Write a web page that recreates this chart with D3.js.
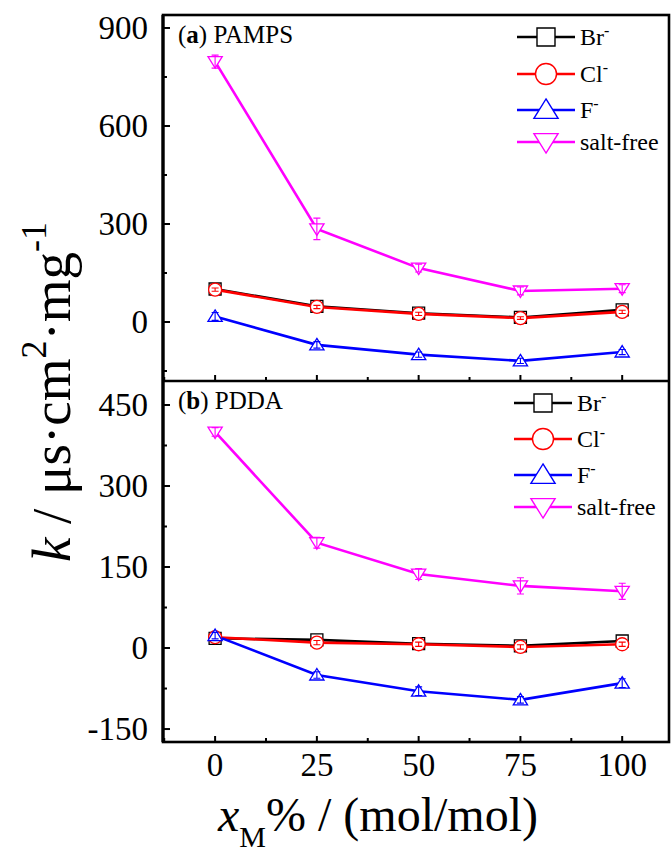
<!DOCTYPE html>
<html>
<head>
<meta charset="utf-8">
<script src="https://cdn.jsdelivr.net/npm/d3@7"></script>
<style>
  html, body { margin: 0; padding: 0; background: #fff; }
  svg { display: block; font-family: 'Times New Roman', 'Liberation Serif', Times, serif; }
</style>
</head>
<body>
<svg id="chart" width="671" height="854"></svg>
<script>
const xValues = [0, 25, 50, 75, 100]
const xTickLabels = ['0', '25', '50', '75', '100']

// (a) PAMPS
const pampsBr = [101, 48, 27, 14, 37]
const pampsCl = [99, 46, 25, 12, 31]
const pampsF = [17, -70, -100, -119, -92]
const pampsSaltFree = [797, 285, 165, 95, 102]
const pampsBrErr = [5, 5, 5, 4, 5]
const pampsClErr = [5, 5, 5, 4, 5]
const pampsFErr = [12, 10, 8, 8, 8]
const pampsSaltFreeErr = [20, 33, 12, 12, 12]
const pampsTicks = [0, 300, 600, 900]
const pampsMinor = [-150, 150, 450, 750]

// (b) PDDA
const pddaBr = [18, 15, 8, 4, 13]
const pddaCl = [20, 10, 7, 2, 7]
const pddaF = [23, -50, -80, -96, -65]
const pddaSaltFree = [400, 195, 137, 115, 105]
const pddaBrErr = [4, 4, 4, 4, 4]
const pddaClErr = [4, 4, 4, 4, 4]
const pddaFErr = [6, 6, 8, 6, 8]
const pddaSaltFreeErr = [8, 10, 10, 15, 15]
const pddaTicks = [-150, 0, 150, 300, 450]
const pddaMinor = [-75, 75, 225, 375]

const seriesNames = ['Br', 'Cl', 'F', 'salt-free']
const seriesColors = ['#000000', '#ff0000', '#0000ff', '#ff00ff']
const seriesSymbols = ['square', 'circle', 'up', 'down']

const svg = d3.select('#chart')
const left = 163
const right = 669
const x = d3.scaleLinear().domain([-12.8, 111.5]).range([left, right])

const panels = [
  {
    label: 'a', name: 'PAMPS', top: 15, bottom: 381,
    domain: [-180.6, 939.7],
    data: [pampsBr, pampsCl, pampsF, pampsSaltFree],
    err: [pampsBrErr, pampsClErr, pampsFErr, pampsSaltFreeErr],
    ticks: pampsTicks, minor: pampsMinor,
    legendY: [37, 74, 110, 142], legendX: 517,
  },
  {
    label: 'b', name: 'PDDA', top: 381, bottom: 742,
    domain: [-174, 494.4],
    data: [pddaBr, pddaCl, pddaF, pddaSaltFree],
    err: [pddaBrErr, pddaClErr, pddaFErr, pddaSaltFreeErr],
    ticks: pddaTicks, minor: pddaMinor,
    legendY: [403, 439, 475, 507], legendX: 514,
  },
]

function symbolPath(kind, s) {
  // s ~ half size
  if (kind === 'square') return `M${-s},${-s}H${s}V${s}H${-s}Z`
  if (kind === 'circle') return `M${s},0A${s},${s} 0 1,1 ${-s},0A${s},${s} 0 1,1 ${s},0Z`
  if (kind === 'up') return `M0,${-s * 1.05}L${s * 1.15},${s * 0.8}L${-s * 1.15},${s * 0.8}Z`
  return `M0,${s * 1.05}L${s * 1.15},${-s * 0.8}L${-s * 1.15},${-s * 0.8}Z`
}

panels.forEach((p) => {
  const y = d3.scaleLinear().domain(p.domain).range([p.bottom, p.top])
  const g = svg.append('g')

  // series lines
  p.data.forEach((vals, i) => {
    const pts = xValues.map((xv, j) => [x(xv), y(vals[j])])
    g.append('path')
      .attr('d', d3.line()(pts))
      .attr('fill', 'none')
      .attr('stroke', seriesColors[i])
      .attr('stroke-width', 2.6)
  })

  // markers + error bars
  p.data.forEach((vals, i) => {
    const half = seriesSymbols[i] === 'square' ? 6 : seriesSymbols[i] === 'circle' ? 6.5 : 6.2
    xValues.forEach((xv, j) => {
      const cx = x(xv)
      const cy = y(vals[j])
      g.append('path')
        .attr('d', symbolPath(seriesSymbols[i], half))
        .attr('transform', `translate(${cx},${cy})`)
        .attr('fill', '#fff')
        .attr('stroke', seriesColors[i])
        .attr('stroke-width', 1.3)
      const e = p.err[i][j]
      const y1 = y(vals[j] + e)
      const y2 = y(vals[j] - e)
      g.append('path')
        .attr('d', `M${cx},${y1}V${y2}M${cx - 3.5},${y1}H${cx + 3.5}M${cx - 3.5},${y2}H${cx + 3.5}`)
        .attr('stroke', seriesColors[i])
        .attr('stroke-width', 1.1)
        .attr('fill', 'none')
    })
  })

  // y ticks (inward)
  p.ticks.forEach((t) => {
    g.append('line')
      .attr('x1', left).attr('x2', left + 7)
      .attr('y1', y(t)).attr('y2', y(t))
      .attr('stroke', '#000').attr('stroke-width', 2)
    g.append('text')
      .attr('x', 148).attr('y', y(t) + 11)
      .attr('text-anchor', 'end')
      .attr('font-size', 33)
      .text(t)
  })
  p.minor.forEach((t) => {
    g.append('line')
      .attr('x1', left).attr('x2', left + 4)
      .attr('y1', y(t)).attr('y2', y(t))
      .attr('stroke', '#000').attr('stroke-width', 2)
  })

  // x ticks on the bottom edge of each panel (inward)
  xValues.forEach((xv) => {
    g.append('line')
      .attr('x1', x(xv)).attr('x2', x(xv))
      .attr('y1', p.bottom).attr('y2', p.bottom - 6)
      .attr('stroke', '#000').attr('stroke-width', 2)
  })
  d3.range(-12.5, 112, 25).forEach((xv) => {
    if (x(xv) <= left + 1 || x(xv) >= right - 1) return
    g.append('line')
      .attr('x1', x(xv)).attr('x2', x(xv))
      .attr('y1', p.bottom).attr('y2', p.bottom - 4)
      .attr('stroke', '#000').attr('stroke-width', 2)
  })

  // panel label
  const lab = g.append('text')
    .attr('x', 178).attr('y', p.top + 28)
    .attr('font-size', 25)
  lab.append('tspan').text('(')
  lab.append('tspan').attr('font-weight', 'bold').text(p.label)
  lab.append('tspan').text(') ' + p.name)

  // legend
  seriesNames.forEach((name, i) => {
    const ly = p.legendY[i]
    const lx = p.legendX
    const cx = lx + 29
    g.append('line')
      .attr('x1', lx).attr('x2', lx + 58)
      .attr('y1', ly).attr('y2', ly)
      .attr('stroke', seriesColors[i]).attr('stroke-width', 2.6)
    const half = seriesSymbols[i] === 'square' ? 9 : 10.5
    g.append('path')
      .attr('d', symbolPath(seriesSymbols[i], half))
      .attr('transform', `translate(${cx},${ly})`)
      .attr('fill', '#fff')
      .attr('stroke', seriesColors[i])
      .attr('stroke-width', 1.4)
    const t = g.append('text')
      .attr('x', lx + 63).attr('y', ly + 8)
      .attr('font-size', 24)
    t.append('tspan').text(name)
    if (name !== 'salt-free') {
      t.append('tspan').attr('dy', -9).attr('font-size', 16).text('-')
    }
  })
})

// frame
svg.append('rect')
  .attr('x', left).attr('y', 15)
  .attr('width', right - left).attr('height', 742 - 15)
  .attr('fill', 'none').attr('stroke', '#000').attr('stroke-width', 2.6)
svg.append('line')
  .attr('x1', left).attr('x2', right)
  .attr('y1', 381).attr('y2', 381)
  .attr('stroke', '#000').attr('stroke-width', 2.6)
svg.append('line')
  .attr('x1', left).attr('x2', left)
  .attr('y1', 15).attr('y2', 742)
  .attr('stroke', '#000').attr('stroke-width', 3.2)

// x tick labels
xValues.forEach((xv, i) => {
  svg.append('text')
    .attr('x', x(xv)).attr('y', 776)
    .attr('text-anchor', 'middle')
    .attr('font-size', 33)
    .text(xTickLabels[i])
})

// x axis title
const xt = svg.append('text')
  .attr('x', 218).attr('y', 831)
  .attr('font-size', 48)
xt.append('tspan').attr('font-style', 'italic').text('x')
xt.append('tspan').attr('font-size', 30).attr('dy', 16).text('M')
xt.append('tspan').attr('dy', -16).text('% / (mol/mol)')

// y axis title
const yt = svg.append('text')
  .attr('transform', 'translate(70,392) rotate(-90)')
  .attr('text-anchor', 'middle')
  .attr('font-size', 55)
yt.append('tspan').attr('font-style', 'italic').text('k')
yt.append('tspan').text(' / \u03bcs\u00b7cm')
yt.append('tspan').attr('font-size', 36).attr('dy', -24).text('2')
yt.append('tspan').attr('dy', 24).text('\u00b7mg')
yt.append('tspan').attr('font-size', 36).attr('dy', -24).text('-1')
</script>
</body>
</html>
